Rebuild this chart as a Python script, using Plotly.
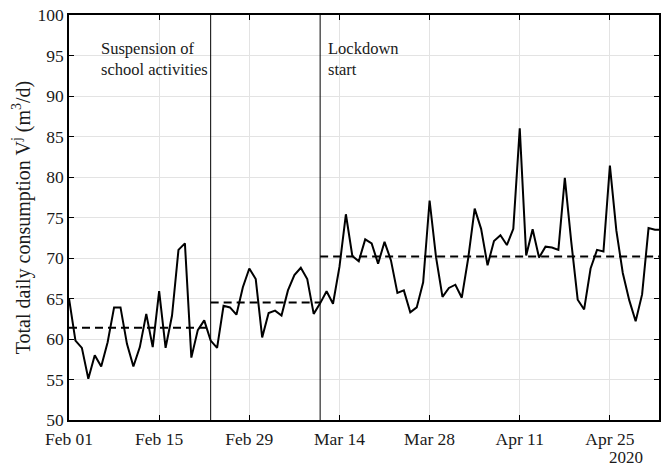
import pandas as pd
import plotly.graph_objects as go

start_date = "2020-02-01"
consumption = [
    65.0, 59.8, 58.9, 55.1, 58.0, 56.6, 59.6, 63.9, 63.9, 59.4,
    56.6, 59.0, 63.1, 59.0, 65.9, 58.9, 62.9, 71.0, 71.8, 57.7,
    61.1, 62.3, 59.8, 58.9, 64.1, 63.9, 63.0, 66.4, 68.7, 67.4,
    60.2, 63.2, 63.5, 62.9, 66.0, 67.9, 68.8, 67.4, 63.1, 64.4,
    65.9, 64.35, 68.9, 75.4, 70.25, 69.6, 72.3, 71.8, 69.3, 72.0,
    69.7, 65.7, 66.0, 63.3, 63.9, 67.0, 77.1, 70.1, 65.2, 66.3,
    66.7, 65.1, 70.0, 76.1, 73.6, 69.1, 72.1, 72.8, 71.6, 73.6,
    86.0, 70.3, 73.55, 70.05, 71.4, 71.3, 71.0, 79.9, 72.0, 64.85,
    63.65, 68.7, 71.0, 70.8, 81.4, 73.4, 68.15, 64.8, 62.2, 65.5,
    73.7, 73.5, 73.5,
]
dates = pd.date_range(start_date, periods=len(consumption), freq="D")

period_starts = ["2020-02-01", "2020-02-23", "2020-03-11"]
period_ends = ["2020-02-23", "2020-03-11", "2020-05-03"]
period_means = [61.4, 64.5, 70.2]

event_dates = ["2020-02-23", "2020-03-11"]
event_labels = ["Suspension of<br>school activities", "Lockdown<br>start"]
event_label_x = ["2020-02-05 16:00", "2020-03-11 20:00"]

tick_dates = ["2020-02-01", "2020-02-15", "2020-02-29", "2020-03-14",
              "2020-03-28", "2020-04-11", "2020-04-25"]
tick_text = ["Feb 01", "Feb 15", "Feb 29", "Mar 14", "Mar 28", "Apr 11", "Apr 25"]

FONT = "Liberation Serif"
TXT = "#1a1a1a"

fig = go.Figure()
fig.add_trace(go.Scatter(x=dates, y=consumption, mode="lines",
                         line=dict(color="black", width=2), showlegend=False))
for s, e, m in zip(period_starts, period_ends, period_means):
    fig.add_trace(go.Scatter(x=[s, e], y=[m, m], mode="lines",
                             line=dict(color="black", width=2, dash="8px,5px"),
                             showlegend=False))

for d in event_dates:
    fig.add_shape(type="line", xref="x", yref="paper", x0=d, x1=d, y0=0, y1=1,
                  line=dict(color="black", width=1))

for lx, lt in zip(event_label_x, event_labels):
    fig.add_annotation(x=lx, y=97.3, xref="x", yref="y", text=lt, showarrow=False,
                       xanchor="left", yanchor="top", align="left",
                       font=dict(family=FONT, size=16.5, color=TXT))

fig.add_annotation(x=0.976, y=-0.093, xref="paper", yref="paper", text="2020",
                   showarrow=False, xanchor="right", yanchor="middle",
                   font=dict(family=FONT, size=17, color=TXT))

fig.update_layout(
    width=662, height=467,
    margin=dict(l=69, r=1, t=15, b=47),
    paper_bgcolor="white", plot_bgcolor="white",
    font=dict(family=FONT, size=17.5, color=TXT),
    xaxis=dict(
        range=["2020-02-01", "2020-05-02 15:00"],
        tickvals=tick_dates, ticktext=tick_text,
        showgrid=True, gridcolor="#e3e3e3", gridwidth=1,
        showline=True, linecolor="black", linewidth=1.5, mirror="ticks",
        ticks="inside", ticklen=5, tickcolor="black", tickwidth=1,
        zeroline=False, tickfont=dict(family=FONT, size=17.5, color=TXT),
        ticklabelstandoff=2,
    ),
    yaxis=dict(
        range=[50, 100], dtick=5,
        showgrid=True, gridcolor="#e3e3e3", gridwidth=1,
        showline=True, linecolor="black", linewidth=1.5, mirror="ticks",
        ticks="inside", ticklen=5, tickcolor="black", tickwidth=1,
        zeroline=False, tickfont=dict(family=FONT, size=17.5, color=TXT),
        title=dict(text="Total daily consumption V<sup>j</sup> (m<sup>3</sup>/d)",
                   font=dict(family=FONT, size=20, color=TXT), standoff=2),
    ),
)

fig.write_html("out.html", config={"displayModeBar": False},
               post_script="document.body.style.margin='0';document.body.style.overflow='hidden';")
